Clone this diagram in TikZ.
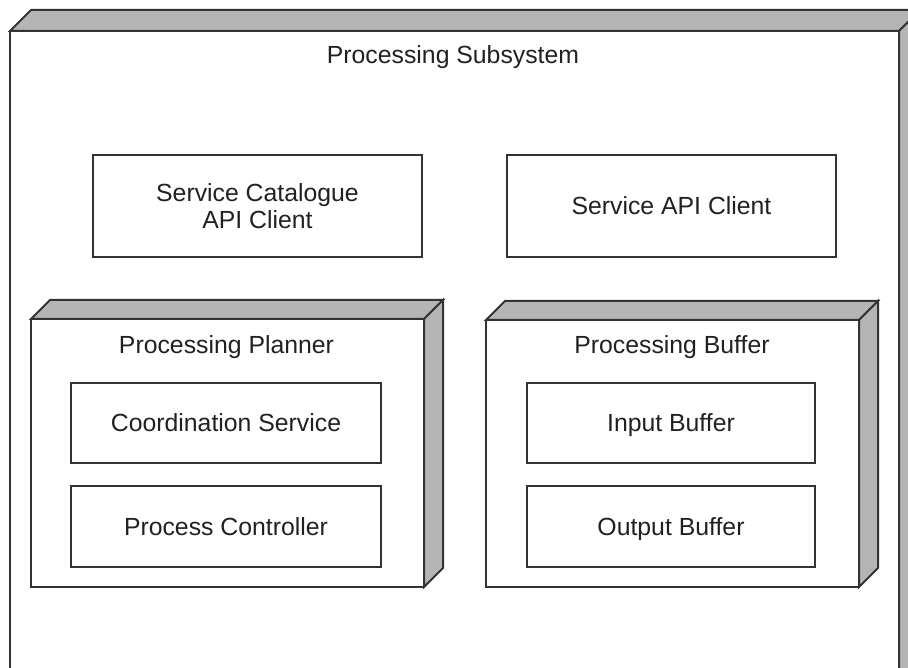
\documentclass[tikz,border=0pt]{standalone}
\usepackage{fontspec}
\setmainfont{Liberation Sans}
\begin{document}
\begin{tikzpicture}[x=1pt,y=-1pt,
  every node/.style={font=\fontsize{24.8}{27}\selectfont, text=black!87},
  edge/.style={draw=black!80, line width=2pt, line join=miter},
  front/.style={edge, fill=white, outer sep=0pt, inner sep=0pt},
  shade/.style={edge, fill=black!29},
  part/.style={edge, fill=white, outer sep=0pt, align=center},
  oneline/.style={part, text height=20pt, text depth=3pt},
  caption/.style={inner sep=0pt, text height=18pt, text depth=5.5pt}]
\useasboundingbox (0,0) rectangle (908,668);
\clip (0,0) rectangle (908,668);

% Outer node: Processing Subsystem (runs past the right and bottom edges)
\node[front, minimum width=889pt, minimum height=669pt, anchor=north west] (subsys) at (10,31) {};
\draw[shade] (subsys.north west) -- ++(21,-21) -- ([shift={(21,-21)}]subsys.north east) -- (subsys.north east) -- cycle;
\draw[shade] (subsys.north east) -- ++(21,-21) -- ([shift={(21,-21)}]subsys.south east) -- (subsys.south east) -- cycle;
\node[caption] (subsyslabel) at (453,57) {Processing Subsystem};

% Clients
\node[part, minimum width=329pt, minimum height=102pt, anchor=north west] (catalogue) at (93,155) {Service Catalogue\\API Client};
\node[oneline, minimum width=329pt, minimum height=102pt, anchor=north west] (serviceapi) at (507,155) {Service API Client};

% Processing Planner node
\node[front, minimum width=393pt, minimum height=268pt, anchor=north west] (planner) at (31,319) {};
\draw[shade] (planner.north west) -- ++(19,-19) -- ([shift={(19,-19)}]planner.north east) -- (planner.north east) -- cycle;
\draw[shade] (planner.north east) -- ++(19,-19) -- ([shift={(19,-19)}]planner.south east) -- (planner.south east) -- cycle;
\node[caption] (plannerlabel) at (226.5,347) {Processing Planner};
\node[oneline, minimum width=310pt, minimum height=80pt, anchor=north west] (coord) at (71,383) {Coordination Service};
\node[oneline, minimum width=310pt, minimum height=81pt, anchor=north west] (controller) at (71,486) {Process Controller};

% Processing Buffer node
\node[front, minimum width=373pt, minimum height=267pt, anchor=north west] (buffer) at (486,320) {};
\draw[shade] (buffer.north west) -- ++(19,-19) -- ([shift={(19,-19)}]buffer.north east) -- (buffer.north east) -- cycle;
\draw[shade] (buffer.north east) -- ++(19,-19) -- ([shift={(19,-19)}]buffer.south east) -- (buffer.south east) -- cycle;
\node[caption] (bufferlabel) at (672,347) {Processing Buffer};
\node[oneline, minimum width=288pt, minimum height=80pt, anchor=north west] (inbuf) at (527,383) {Input Buffer};
\node[oneline, minimum width=288pt, minimum height=81pt, anchor=north west] (outbuf) at (527,486) {Output Buffer};
\end{tikzpicture}
\end{document}
